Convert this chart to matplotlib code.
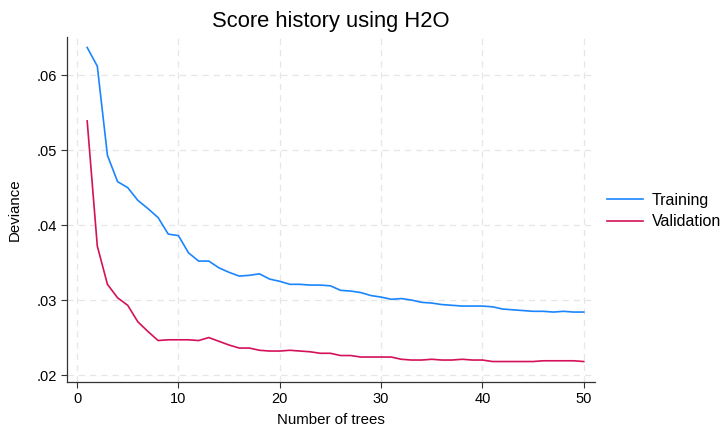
import matplotlib.pyplot as plt
import numpy as np

plt.rcParams['font.family'] = ['Liberation Sans', 'DejaVu Sans']

trees = np.arange(1, 51)
training = [0.0637, 0.0612, 0.0493, 0.0458, 0.0450, 0.0433, 0.0422, 0.0410, 0.0388, 0.0386,
            0.0363, 0.0352, 0.0352, 0.0343, 0.0337, 0.0332, 0.0333, 0.0335, 0.0328, 0.0325,
            0.0321, 0.0321, 0.0320, 0.0320, 0.0319, 0.0313, 0.0312, 0.0310, 0.0306, 0.0304,
            0.0301, 0.0302, 0.0300, 0.0297, 0.0296, 0.0294, 0.0293, 0.0292, 0.0292, 0.0292,
            0.0291, 0.0288, 0.0287, 0.0286, 0.0285, 0.0285, 0.0284, 0.0285, 0.0284, 0.0284]
validation = [0.0539, 0.0372, 0.0321, 0.0303, 0.0293, 0.0271, 0.0258, 0.0246, 0.0247, 0.0247,
              0.0247, 0.0246, 0.0250, 0.0245, 0.0240, 0.0236, 0.0236, 0.0233, 0.0232, 0.0232,
              0.0233, 0.0232, 0.0231, 0.0229, 0.0229, 0.0226, 0.0226, 0.0224, 0.0224, 0.0224,
              0.0224, 0.0221, 0.0220, 0.0220, 0.0221, 0.0220, 0.0220, 0.0221, 0.0220, 0.0220,
              0.0218, 0.0218, 0.0218, 0.0218, 0.0218, 0.0219, 0.0219, 0.0219, 0.0219, 0.0218]
xticks = [0, 10, 20, 30, 40, 50]
yticks = [0.02, 0.03, 0.04, 0.05, 0.06]
ytick_labels = ['.02', '.03', '.04', '.05', '.06']

fig = plt.figure(figsize=(7.22, 4.28), dpi=100)
ax = fig.add_axes([0.0928, 0.1075, 0.7312, 0.8061])

ax.plot(trees, training, color='#1a85ff', lw=1.2, label='Training')
ax.plot(trees, validation, color='#d41159', lw=1.2, label='Validation')

ax.set_xlim(-0.99, 51.1)
ax.set_ylim(0.01907, 0.0651)
ax.set_xticks(xticks)
ax.set_yticks(yticks)
ax.set_yticklabels(ytick_labels)
ax.grid(True, color='#e6e6e6', linestyle=(0, (5, 4)), lw=0.9)
ax.set_axisbelow(True)
for s in ['top', 'right']:
    ax.spines[s].set_visible(False)
for s in ['left', 'bottom']:
    ax.spines[s].set_color('#333333')
    ax.spines[s].set_linewidth(0.9)
ax.tick_params(labelsize=10.5, length=4, width=0.8, color='#333333', pad=3)

ax.set_title('Score history using H2O', fontsize=15.8, pad=7)
ax.set_xlabel('Number of trees', fontsize=10.8, labelpad=5)
ax.set_ylabel('Deviance', fontsize=10.8, labelpad=11)

fig.legend(loc='center left', bbox_to_anchor=(607 / 722, 0.507), frameon=False, fontsize=11.5,
           borderpad=0, borderaxespad=0, handlelength=2.25, handletextpad=0.56,
           labelspacing=0.4)

fig.savefig('out.png', dpi=100)
